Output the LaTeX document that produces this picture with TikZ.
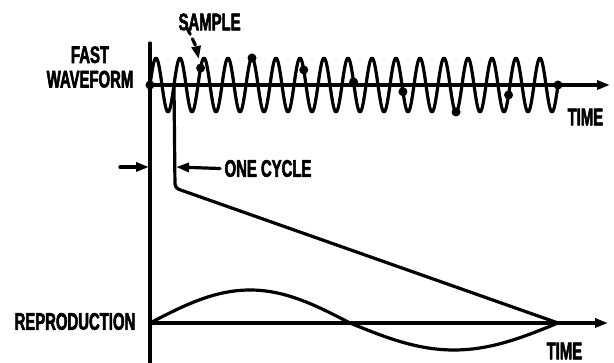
\documentclass[tikz,border=0pt]{standalone}
\usepackage{fontspec}
\newfontfamily\lab{Liberation Sans}[FakeStretch=0.62,FakeBold=2.2]
\usetikzlibrary{arrows.meta}
\begin{document}
\begin{tikzpicture}[x=1pt,y=-1pt,line width=3.2pt,line cap=round,line join=round,
  lbl/.style={font=\lab\bfseries\fontsize{24}{24.5}\selectfont,inner sep=0pt,align=center},
  tip/.style={-{Triangle[length=13pt,width=9pt]}},
  dotm/.style={circle,fill,inner sep=0pt,minimum size=9pt}]
\useasboundingbox (0,0) rectangle (614,363);
% coordinates
\coordinate (vtop) at (150,43);
\coordinate (vbot) at (150,363);
\coordinate (o1) at (150,85);
\coordinate (e1) at (610,85);
\coordinate (o2) at (150,323);
\coordinate (e2) at (608,323);
\coordinate (c0) at (174,85);
\coordinate (c1) at (175,188);
\coordinate (rend) at (558,323);
\coordinate (la) at (120,167);
\coordinate (lb) at (149,167);
\coordinate (rb) at (176,167);
% labels
\node[lbl] (fast) at (90,67) {FAST\\WAVEFORM};
\node[lbl,anchor=west] (sample) at (177,22) {SAMPLE};
\node[lbl,anchor=west] (time1) at (566,117) {TIME};
\node[lbl,anchor=west] (onecycle) at (223,168.5) {ONE CYCLE};
\node[lbl,anchor=west] (repro) at (13,321.5) {REPRODUCTION};
\node[lbl,anchor=west] (time2) at (545,351) {TIME};
% axes
\draw (vtop) -- (vbot);
\draw[tip] (o1) -- (e1);
\draw[tip] (o2) -- (e2);
% fast waveform
\draw plot[domain=0:408,samples=409,smooth] ({150+\x},{85-27*sin(15*\x)});
% samples (phase in cycles of the fast waveform)
\foreach \p [count=\k from 0] in {0,2.108,4.25,6.406,8.482,10.54,12.75,14.94,17}
  \node[dotm] (s\k) at ({150+24*\p},{85-27*sin(360*\p)}) {};
% sample pointer
\draw[dash pattern=on 7pt off 5pt,tip,shorten >=3pt] ([xshift=10pt,yshift=4pt]sample.south west) to[bend left=8] (s1);
% sawtooth
\draw[rounded corners=4pt] (c0) -- (c1) -- (rend);
% one cycle dimension
\draw[tip] (la) -- (lb);
\draw[tip] ([xshift=-3pt]onecycle.west) -- (rb);
% reproduction
\draw plot[domain=0:200,samples=101,smooth] ({150+\x},{323-33*sin(0.9*\x)});
\draw plot[domain=0:208,samples=105,smooth] ({350+\x},{323+27*sin(0.86538*\x)});
\end{tikzpicture}
\end{document}
